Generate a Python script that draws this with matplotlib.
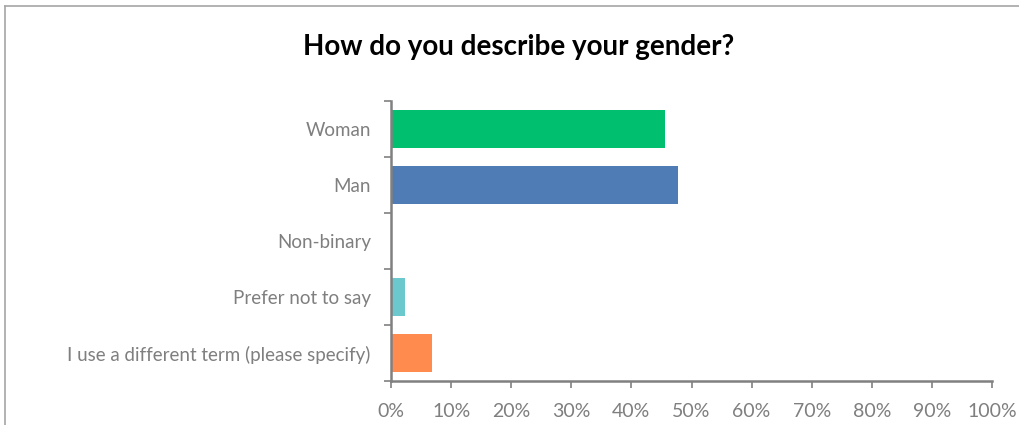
import matplotlib
matplotlib.use("Agg")
import matplotlib.pyplot as plt
from matplotlib.lines import Line2D
from matplotlib.ticker import FixedLocator, NullFormatter

categories = ["Woman", "Man", "Non-binary", "Prefer not to say",
              "I use a different term (please specify)"]
values = [45.6, 47.7, 0.0, 2.3, 6.8]
colors = ["#00BF6F", "#507CB6", "#A0A0A0", "#6BC8CD", "#FF8B4F"]
xticks = [0, 10, 20, 30, 40, 50, 60, 70, 80, 90, 100]
xticklabels = [f"{t}%" for t in xticks]
title = "How do you describe your gender?"

plt.rcParams['font.family'] = ['Lato', 'DejaVu Sans']
grey = "#808080"
txt = "#7F7F7F"

fig = plt.figure(figsize=(10.19, 4.25), dpi=100)
ax = fig.add_axes([391/1019, 1 - 381/425, (992 - 391)/1019, (381 - 101)/425])

ypos = list(range(len(categories)))
ax.barh(ypos, values, height=0.68, color=colors, zorder=2)
ax.set_ylim(len(categories) - 0.5, -0.5)
ax.set_xlim(0, 100)

ax.set_xticks(xticks)
ax.set_xticklabels(xticklabels, fontsize=14, color=txt)
ax.yaxis.set_major_locator(FixedLocator([i - 0.5 for i in range(len(categories) + 1)]))
ax.yaxis.set_major_formatter(NullFormatter())
ax.yaxis.set_minor_locator(FixedLocator(ypos))
ax.set_yticklabels(categories, minor=True, fontsize=13.5, color=txt)
ax.tick_params(axis='y', which='minor', length=0, pad=14.5)
ax.tick_params(axis='y', which='major', length=5, width=1.2, color=grey, direction='out')
ax.tick_params(axis='x', length=5, width=1.2, color=grey, direction='out', pad=10.5)

for s in ['top', 'right']:
    ax.spines[s].set_visible(False)
for s in ['left', 'bottom']:
    ax.spines[s].set_color(grey)
    ax.spines[s].set_linewidth(1.8)

fig.text(519/1019, 1 - 47/425, title, ha='center', va='center',
         fontsize=20, fontweight='bold', color='black')

# outer chart frame (top and left edges)
fig.add_artist(Line2D([4.5/1019, 1], [1 - 6/425, 1 - 6/425], transform=fig.transFigure,
                      color="#A6A6A6", lw=1.2))
fig.add_artist(Line2D([4.5/1019, 4.5/1019], [0, 1 - 6/425], transform=fig.transFigure,
                      color="#A6A6A6", lw=1.2))

fig.savefig("out.png", dpi=100, facecolor="white")
